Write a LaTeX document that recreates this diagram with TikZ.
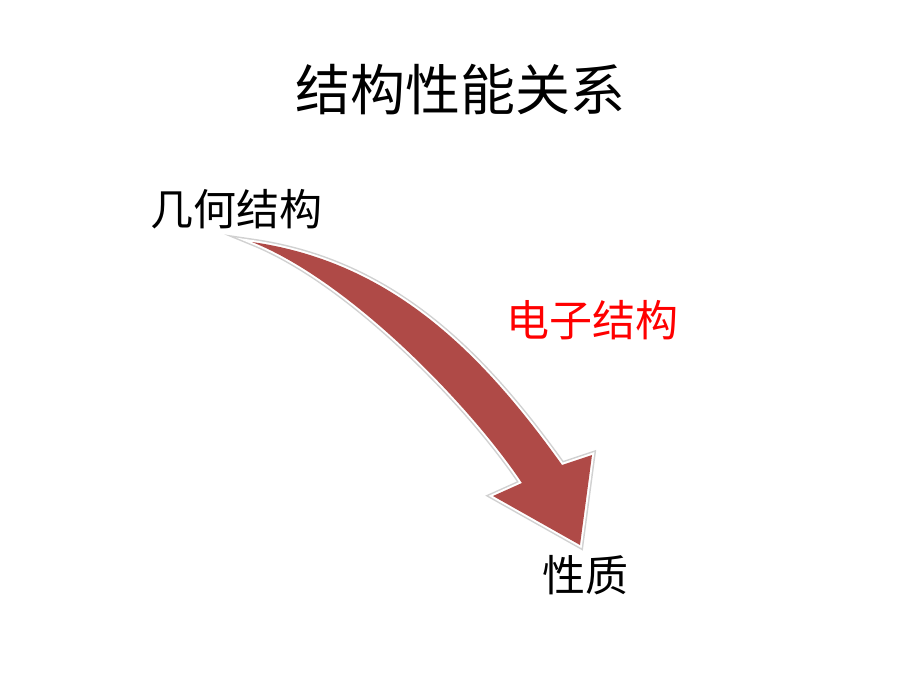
\documentclass[tikz,border=0pt]{standalone}
\usepackage{fontspec}
\setmainfont{Noto Sans CJK SC}
\definecolor{arrowred}{RGB}{175,74,71}
\begin{document}
\begin{tikzpicture}[x=1pt,y=-1pt,
  lbl/.style={inner sep=0pt,font=\fontsize{43}{48}\selectfont},
  ttl/.style={inner sep=0pt,font=\fontsize{55}{60}\selectfont}]
\useasboundingbox[fill=white] (0,0) rectangle (920,690);
\node[ttl] (title) at (460,90) {结构性能关系};
\node[lbl] (geo) at (236,209) {几何结构};
\node[lbl,text=red] (elec) at (592,320) {电子结构};
\node[lbl] (prop) at (585,575) {性质};
\coordinate (tail) at (252,242);
\coordinate (nr) at (562,465);
\coordinate (br) at (592,455);
\coordinate (tip) at (580,545);
\coordinate (bl) at (493,496);
\coordinate (nl) at (522,483);
\def\arrowpath{(tail) .. controls (392,262) and (482,353) .. (nr) -- (br) -- (tip) -- (bl) -- (nl) .. controls (472,408) and (352,282) .. cycle}
\draw[black!18,line width=7pt,line join=miter] \arrowpath;
\draw[white,line width=4pt,line join=miter] \arrowpath;
\fill[arrowred] \arrowpath;
\end{tikzpicture}
\end{document}
